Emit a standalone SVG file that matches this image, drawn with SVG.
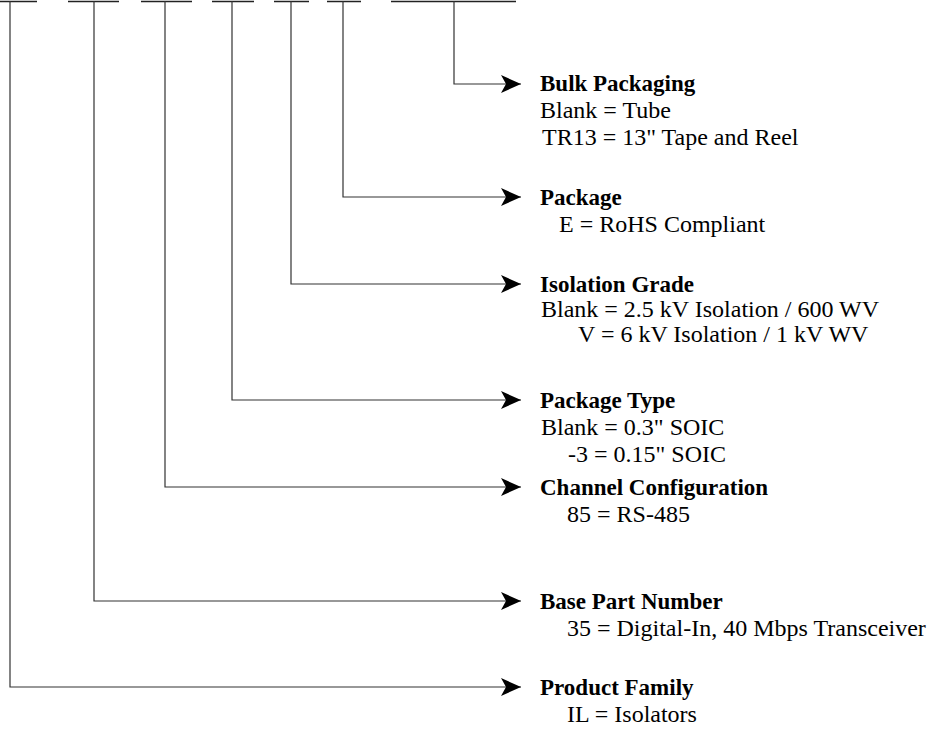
<svg xmlns="http://www.w3.org/2000/svg" width="939" height="732" viewBox="0 0 939 732">
<style>
.bg{fill:#fff}
.top{stroke:#222;stroke-width:1.5;fill:none}
.con{stroke:#333;stroke-width:1.2;fill:none;marker-end:url(#arr)}
.t{font-family:"Liberation Serif","Times New Roman",serif;font-size:24px;fill:#000}
.h{font-weight:bold;font-size:23px}
</style>
<defs>
<marker id="arr" markerUnits="userSpaceOnUse" markerWidth="20" markerHeight="18" viewBox="0 0 20 18" refX="20" refY="9" orient="auto">
<path d="M0,0 L20,9 L0,18 L5,9 Z" fill="#000"/>
</marker>
</defs>
<rect class="bg" x="0" y="0" width="939" height="732"/>
<g id="partline">
<path class="top" d="M0,1.5 H37 M68,1.5 H119 M141,1.5 H192 M212,1.5 H254 M274,1.5 H309 M327,1.5 H361 M391,1.5 H516"/>
</g>
<g id="connectors">
<path class="con" d="M454,1 V84 H521"/>
<path class="con" d="M343,1 V197 H521"/>
<path class="con" d="M291,1 V284 H521"/>
<path class="con" d="M232,1 V400 H521"/>
<path class="con" d="M165,1 V487 H521"/>
<path class="con" d="M94,1 V601 H521"/>
<path class="con" d="M10,1 V687 H521"/>
</g>
<g id="bulk-packaging">
<text class="t h" x="540" y="91">Bulk Packaging</text>
<text class="t" x="540" y="118">Blank = Tube</text>
<text class="t" x="542" y="145">TR13 = 13" Tape and Reel</text>
</g>
<g id="package">
<text class="t h" x="540" y="205">Package</text>
<text class="t" x="559" y="232">E = RoHS Compliant</text>
</g>
<g id="isolation-grade">
<text class="t h" x="540" y="292">Isolation Grade</text>
<text class="t" x="541" y="317">Blank = 2.5 kV Isolation / 600 WV</text>
<text class="t" x="578" y="342">V = 6 kV Isolation / 1 kV WV</text>
</g>
<g id="package-type">
<text class="t h" x="540" y="408">Package Type</text>
<text class="t" x="541" y="435">Blank = 0.3" SOIC</text>
<text class="t" x="568" y="462">-3 = 0.15" SOIC</text>
</g>
<g id="channel-configuration">
<text class="t h" x="540" y="495">Channel Configuration</text>
<text class="t" x="567" y="522">85 = RS-485</text>
</g>
<g id="base-part-number">
<text class="t h" x="540" y="609">Base Part Number</text>
<text class="t" x="567" y="636">35 = Digital-In, 40 Mbps Transceiver</text>
</g>
<g id="product-family">
<text class="t h" x="540" y="695">Product Family</text>
<text class="t" x="567" y="722">IL = Isolators</text>
</g>
</svg>
